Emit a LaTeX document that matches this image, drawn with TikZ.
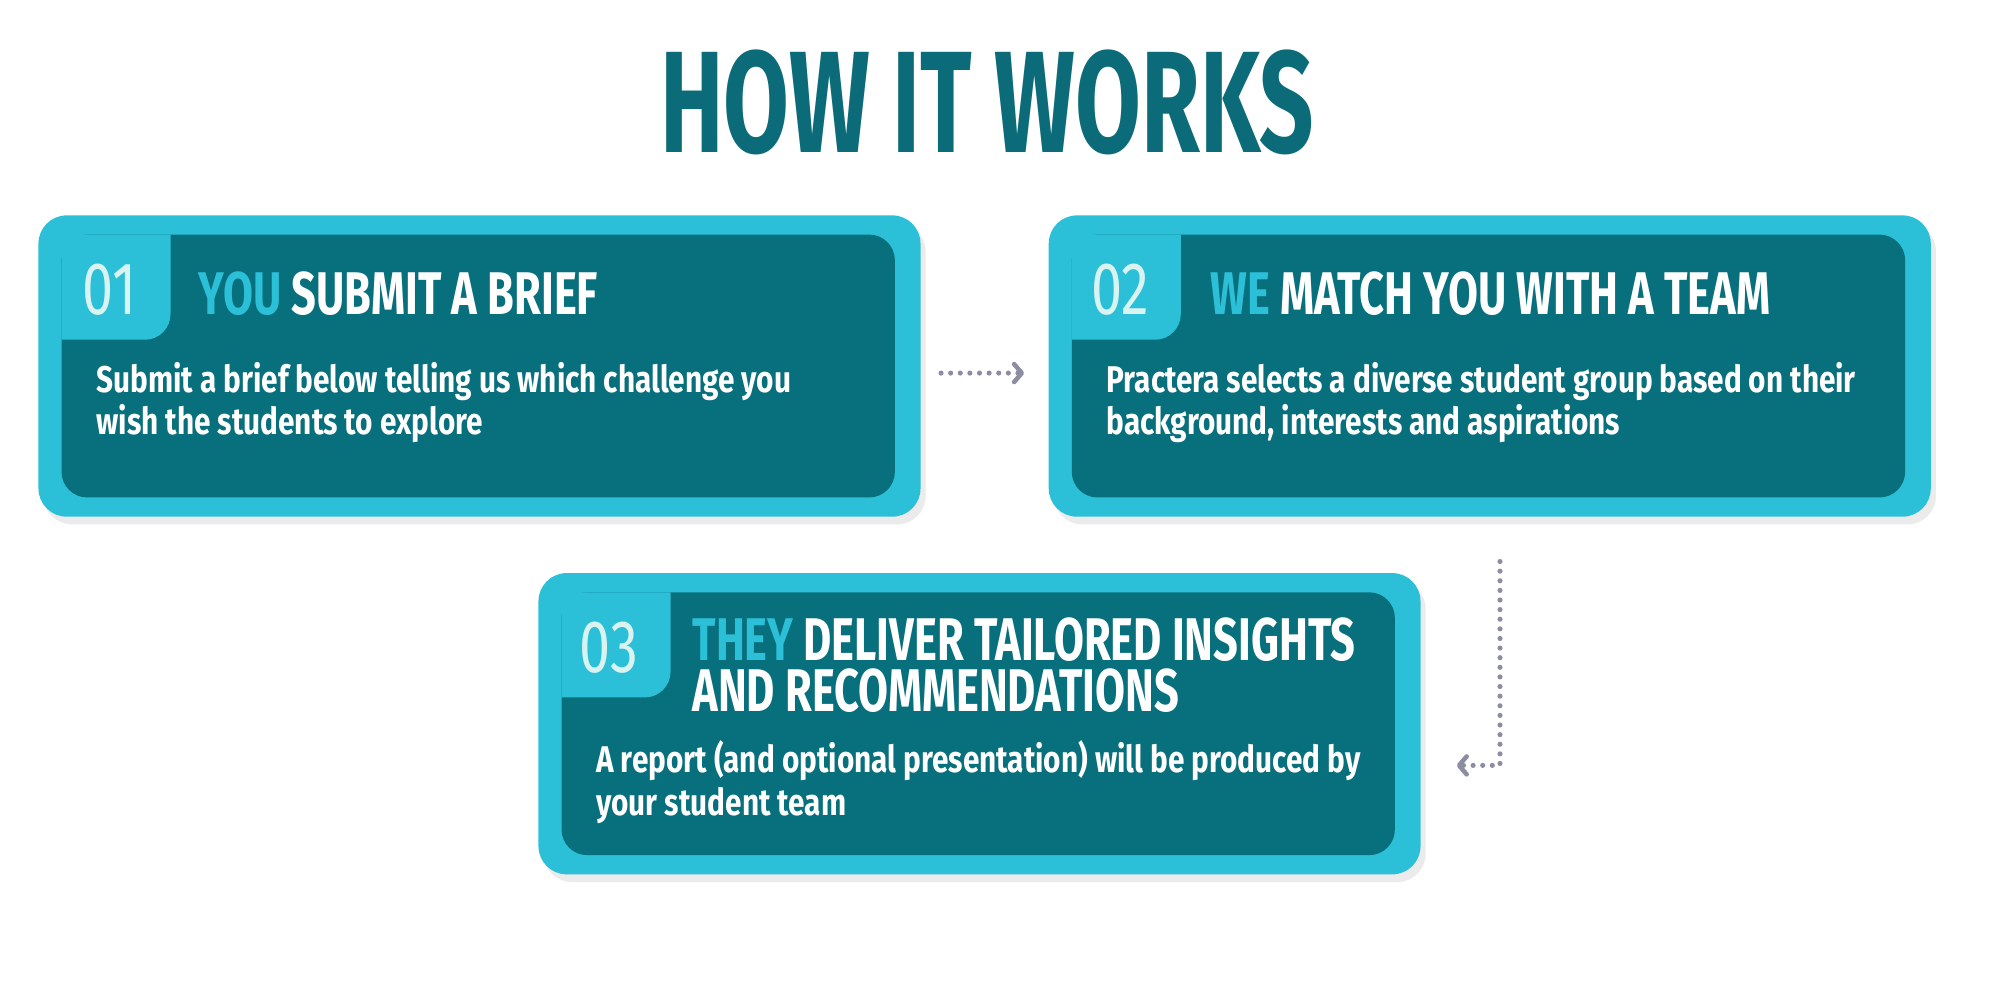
\documentclass[tikz,border=0pt]{standalone}
\usepackage{fontspec}
\setmainfont{Fira Sans}[FakeStretch=0.8]
\newfontfamily\numfont{Fira Sans}[FakeStretch=0.75]
\newfontfamily\bfont{Fira Sans}[FakeStretch=0.72,UprightFont=* Bold]
\newfontfamily\hfont{Fira Sans}[FakeStretch=0.62,UprightFont=* Bold]
\usetikzlibrary{arrows.meta,calc}
\definecolor{cyanA}{HTML}{2BBFD8}
\definecolor{darkT}{HTML}{086F7C}
\definecolor{titleC}{HTML}{0B6B78}
\definecolor{numC}{HTML}{D8F3F0}
\definecolor{arrC}{HTML}{8C8CA2}
\tikzset{
 outer/.style={fill=cyanA,rounded corners=22pt},
 inner/.style={fill=darkT,rounded corners=20pt},
 badge/.style={fill=cyanA},
 num/.style={anchor=west,text=numC,font=\numfont\fontsize{58}{58}\selectfont,inner sep=0},
 ctitle/.style={anchor=west,text=white,font=\bfont\fontsize{47}{40}\selectfont,inner sep=0,align=left},
 body/.style={anchor=west,text=white,font=\fontsize{29}{33}\selectfont\bfseries,inner sep=0,align=left},
 flow/.style={arrC,line width=4pt,dash pattern=on 0pt off 7.5pt,line cap=round},
 tip/.style={arrC,line width=3.5pt,line cap=round,line join=round}
}
\newcommand{\card}[3]{%
 \fill[black,opacity=0.08,rounded corners=22pt] (#1+4,#2+6) rectangle (#1+692,#2+241);
 \fill[outer] (#1,#2) rectangle (#1+688,#2+235);
 \fill[inner] (#1+18,#2+15) rectangle (#1+668,#2+220);
 \fill[badge] (#1+18,#2+15) -- (#1+103,#2+15) [rounded corners=20pt] -- (#1+103,#2+97) [sharp corners] -- (#1+18,#2+97) -- cycle;
 \coordinate (#3) at (#1,#2);
}
\begin{document}
\begin{tikzpicture}[x=1pt,y=-1pt]
\useasboundingbox[fill=white] (0,0) rectangle (1560,765);
\node[text=titleC,inner sep=0] (title) at (770,80) {\resizebox{510pt}{80pt}{\hfont HOW IT WORKS}};
\card{30}{168}{c1}
\card{818}{168}{c2}
\card{420}{447}{c3}
\node[num] (n1) at (64,226) {01};
\node[ctitle] (t1) at (155,229) {\textcolor{cyanA}{YOU} SUBMIT A BRIEF};
\node[body] (b1) at (75,314) {Submit a brief below telling us which challenge you\\wish the students to explore};
\node[num] (n2) at (851,226) {02};
\node[ctitle] (t2) at (944,229) {\textcolor{cyanA}{WE} MATCH YOU WITH A TEAM};
\node[body] (b2) at (863,314) {Practera selects a diverse student group based on their\\background, interests and aspirations};
\node[num] (n3) at (452,505) {03};
\node[ctitle] (t3) at (540,519) {\textcolor{cyanA}{THEY} DELIVER TAILORED INSIGHTS\\AND RECOMMENDATIONS};
\node[body] (b3) at (465,610) {A report (and optional presentation) will be produced by\\your student team};
\coordinate (a1s) at (734,291);
\coordinate (a1e) at (797,291);
\draw[flow] (a1s) -- (a1e);
\draw[tip] ($(a1e)+(-6,-7)$) -- (a1e) -- ($(a1e)+(-6,7)$);
\coordinate (a2s) at (1170,438);
\coordinate (a2c) at (1170,597);
\coordinate (a2e) at (1138,597);
\draw[flow] (a2s) -- (a2c) -- (a2e);
\draw[tip] ($(a2e)+(6,-7)$) -- (a2e) -- ($(a2e)+(6,7)$);
\end{tikzpicture}
\end{document}
